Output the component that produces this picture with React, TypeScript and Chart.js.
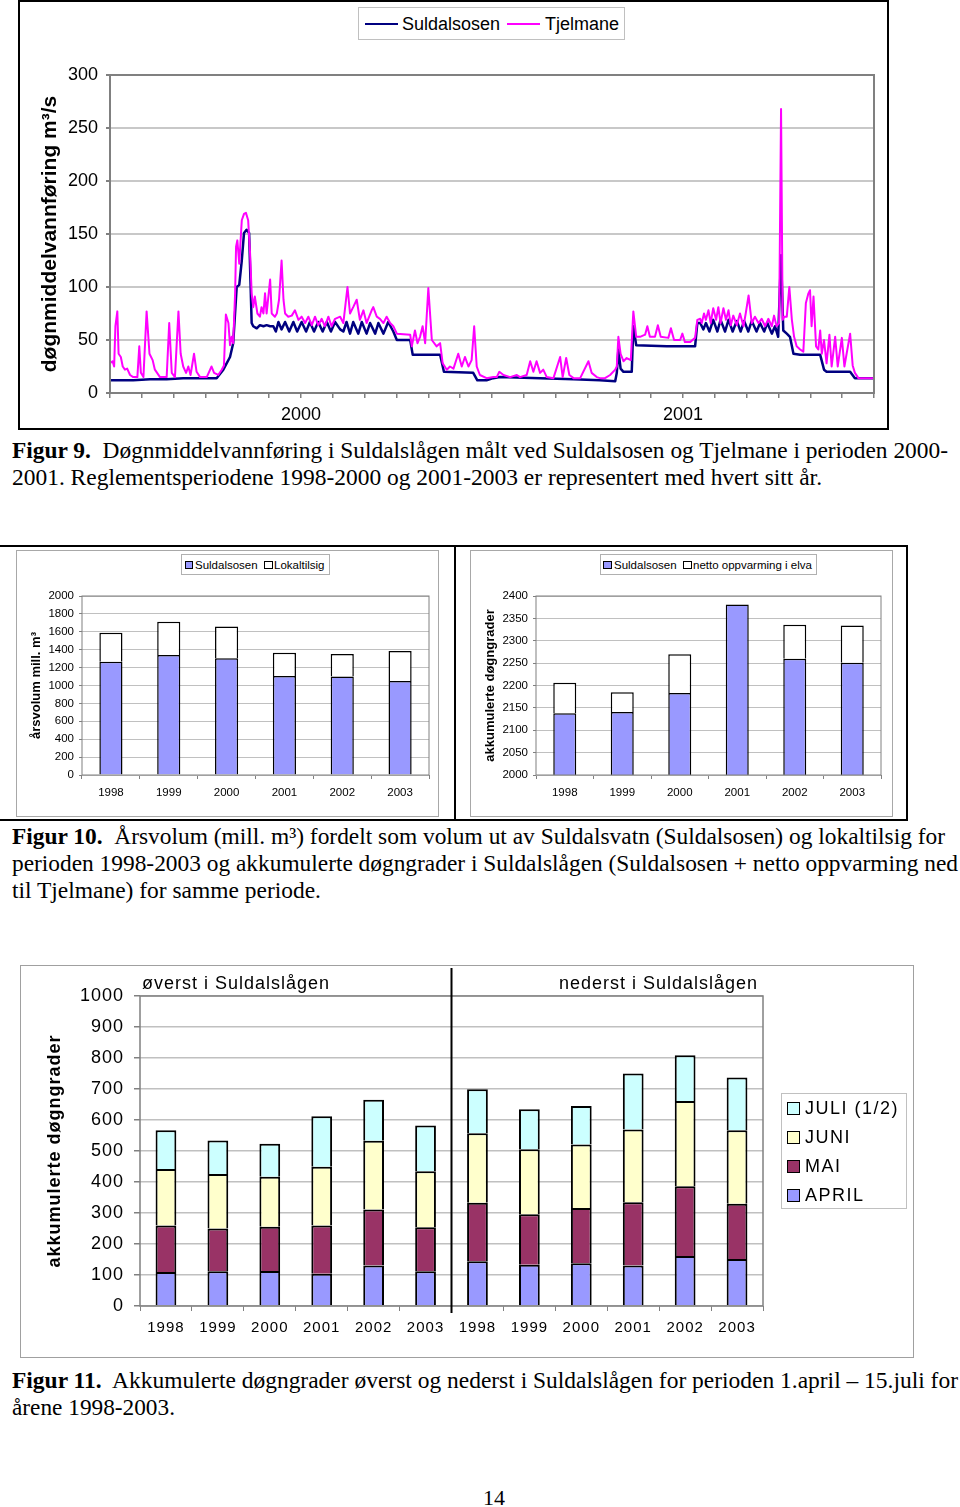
import React, { useEffect, useLayoutEffect, useRef } from "react";
import { Chart, registerables } from "chart.js";

Chart.register(...registerables);

const SANS = "'Liberation Sans', Arial, Helvetica, sans-serif";
const SERIF = "'Liberation Serif', 'Times New Roman', serif";

// ---------- Figur 9: daily mean discharge (x = months since 1 Jan 2000, y = m3/s) ----------
const yearTickMonths = [6, 18];
const yearTickLabels = ["2000", "2001"];

const suldalsosenFlow: [number, number][] = [
  [0, 12], [0.73, 12], [1.26, 13], [1.78, 13], [2.3, 14], [3.35, 14], [3.56, 22], [3.77, 34], [3.87, 47],
  [3.98, 100], [4.06, 102], [4.14, 125], [4.21, 151], [4.29, 154], [4.37, 151], [4.45, 66], [4.5, 63],
  [4.61, 61], [4.71, 64], [4.82, 63], [4.92, 64], [5.03, 63], [5.13, 63], [5.21, 58], [5.29, 67], [5.39, 60],
  [5.5, 67], [5.63, 58], [5.76, 67], [5.88, 58], [6.02, 67], [6.16, 58], [6.28, 67], [6.41, 58], [6.54, 67],
  [6.68, 58], [6.81, 67], [6.94, 58], [7.07, 67], [7.23, 60], [7.33, 58], [7.43, 67], [7.54, 56], [7.64, 67],
  [7.8, 56], [7.91, 67], [8.06, 56], [8.17, 66], [8.33, 56], [8.43, 66], [8.59, 56], [8.74, 67], [8.9, 58],
  [9.01, 50], [9.43, 50], [9.51, 36], [10.37, 36], [10.49, 20], [11.41, 19], [11.54, 12], [11.83, 12],
  [12.04, 14], [12.25, 15], [13.51, 14], [14.56, 13], [15.39, 12], [15.87, 11], [15.92, 19], [15.97, 41],
  [16.04, 23], [16.13, 20], [16.39, 20], [16.44, 63], [16.53, 45], [17.49, 44], [18.38, 44], [18.45, 66],
  [18.54, 66], [18.64, 60], [18.72, 66], [18.83, 58], [18.95, 69], [19.08, 58], [19.18, 69], [19.32, 58],
  [19.43, 69], [19.56, 58], [19.69, 68], [19.81, 58], [19.92, 68], [20.05, 58], [20.16, 68], [20.31, 58],
  [20.42, 66], [20.55, 58], [20.65, 66], [20.79, 56], [20.89, 63], [20.99, 53], [21.08, 130], [21.15, 59],
  [21.26, 56], [21.36, 53], [21.47, 37], [21.68, 36], [22.31, 36], [22.43, 22], [22.51, 20], [23.25, 20],
  [23.4, 14], [23.98, 14],
];

const tjelmaneFlow: [number, number][] = [
  [0, 28], [0.08, 30], [0.13, 25], [0.17, 63], [0.23, 77], [0.27, 37], [0.34, 34], [0.4, 25], [0.47, 22],
  [0.54, 23], [0.63, 17], [0.73, 15], [0.86, 15], [0.92, 44], [0.97, 19], [1.05, 15], [1.15, 77], [1.24, 37],
  [1.34, 31], [1.41, 22], [1.57, 15], [1.78, 15], [1.86, 66], [1.94, 19], [2.04, 15], [2.15, 77], [2.22, 37],
  [2.3, 25], [2.39, 19], [2.46, 25], [2.53, 17], [2.64, 37], [2.72, 20], [2.83, 15], [3.04, 15], [3.19, 25],
  [3.27, 19], [3.4, 17], [3.51, 22], [3.58, 26], [3.64, 74], [3.72, 66], [3.77, 45], [3.82, 53], [3.87, 47],
  [3.93, 94], [3.96, 138], [4.0, 144], [4.06, 122], [4.14, 163], [4.21, 169], [4.27, 170], [4.34, 163],
  [4.4, 132], [4.45, 94], [4.5, 81], [4.55, 91], [4.63, 75], [4.71, 72], [4.76, 81], [4.82, 75], [4.87, 94],
  [4.92, 75], [5.03, 107], [5.08, 75], [5.18, 72], [5.24, 75], [5.31, 88], [5.39, 125], [5.45, 88], [5.5, 75],
  [5.6, 72], [5.71, 73], [5.81, 78], [5.92, 69], [6.02, 72], [6.13, 66], [6.23, 72], [6.34, 64], [6.44, 72],
  [6.54, 64], [6.65, 70], [6.75, 63], [6.86, 72], [6.96, 63], [7.07, 70], [7.23, 72], [7.33, 66], [7.46, 100],
  [7.54, 75], [7.64, 81], [7.75, 88], [7.85, 69], [7.96, 78], [8.06, 66], [8.22, 78], [8.27, 81], [8.38, 72],
  [8.48, 70], [8.59, 66], [8.69, 72], [8.8, 66], [8.9, 63], [9.01, 56], [9.43, 55], [9.48, 44], [9.58, 59],
  [9.66, 47], [9.74, 53], [9.82, 63], [9.9, 47], [10.0, 99], [10.11, 50], [10.26, 44], [10.37, 47], [10.45, 28],
  [10.58, 22], [10.68, 25], [10.79, 23], [10.94, 37], [11.05, 25], [11.15, 34], [11.26, 25], [11.36, 31],
  [11.44, 63], [11.52, 25], [11.62, 17], [11.83, 14], [12.04, 15], [12.15, 15], [12.23, 20], [12.36, 17],
  [12.57, 15], [12.78, 17], [12.88, 15], [13.09, 17], [13.2, 30], [13.3, 20], [13.4, 30], [13.51, 19],
  [13.61, 22], [13.72, 15], [13.93, 14], [14.14, 34], [14.22, 15], [14.33, 33], [14.43, 17], [14.56, 14],
  [14.77, 14], [15.03, 30], [15.13, 19], [15.29, 15], [15.39, 14], [15.55, 14], [15.71, 17], [15.87, 22],
  [15.92, 25], [15.97, 53], [16.04, 37], [16.13, 30], [16.23, 33], [16.36, 31], [16.44, 77], [16.53, 53],
  [16.65, 53], [16.81, 55], [16.88, 63], [16.96, 53], [17.12, 53], [17.21, 64], [17.3, 53], [17.54, 52],
  [17.62, 61], [17.72, 50], [17.91, 50], [17.98, 56], [18.06, 48], [18.22, 48], [18.38, 52], [18.45, 69],
  [18.54, 70], [18.59, 66], [18.66, 75], [18.72, 69], [18.8, 78], [18.87, 66], [18.95, 80], [19.04, 69],
  [19.11, 81], [19.18, 66], [19.27, 80], [19.35, 69], [19.43, 78], [19.5, 64], [19.58, 73], [19.69, 64],
  [19.79, 75], [19.9, 63], [19.97, 75], [20.06, 92], [20.16, 66], [20.26, 72], [20.37, 66], [20.47, 70],
  [20.58, 63], [20.68, 70], [20.79, 63], [20.86, 73], [20.94, 63], [21.02, 66], [21.08, 268], [21.13, 69],
  [21.18, 72], [21.26, 72], [21.34, 100], [21.42, 69], [21.49, 53], [21.57, 44], [21.68, 41], [21.78, 39],
  [21.86, 85], [21.94, 94], [21.99, 97], [22.04, 63], [22.1, 91], [22.18, 44], [22.25, 41], [22.31, 59],
  [22.36, 37], [22.43, 50], [22.51, 28], [22.6, 55], [22.67, 25], [22.78, 53], [22.86, 25], [22.99, 52],
  [23.07, 25], [23.25, 56], [23.33, 26], [23.4, 19], [23.51, 14], [23.98, 14],
];

// ---------- Figur 10 ----------
const years = ["1998", "1999", "2000", "2001", "2002", "2003"];
const volumSuldalsosen = [1265, 1340, 1305, 1105, 1100, 1050];
const volumLokaltilsig = [325, 372, 353, 262, 252, 335];
const graderSuldalsosen = [2138, 2141, 2183, 2381, 2260, 2251];
const graderNetto = [68, 44, 87, 0, 76, 83];

// ---------- Figur 11 (6 × øverst, then 6 × nederst) ----------
const stationYears = [...years, ...years];
const april = [110, 112, 113, 104, 131, 112, 144, 133, 138, 131, 161, 152];
const mai = [150, 138, 143, 156, 180, 142, 189, 163, 178, 204, 225, 178];
const juni = [182, 176, 161, 189, 222, 181, 224, 210, 205, 234, 275, 237];
const juli = [125, 108, 106, 163, 132, 147, 142, 129, 124, 181, 148, 170];

const COL_APRIL = "#9999FF";
const COL_MAI = "#993366";
const COL_JUNI = "#FFFFCC";
const COL_JULI = "#CCFFFF";

const plain = (v: any) => String(v);

function plotFrame(color: string, width: number) {
  return {
    id: "plotFrame",
    afterDraw(chart: any) {
      const { ctx, chartArea: a } = chart;
      ctx.save();
      ctx.strokeStyle = color;
      ctx.lineWidth = width;
      ctx.strokeRect(a.left, a.top, a.right - a.left, a.bottom - a.top);
      ctx.restore();
    },
  };
}

const spacingPlugin = {
  id: "spacing",
  beforeDraw(chart: any) {
    (chart.ctx as any).letterSpacing = "1px";
  },
};

const dividerPlugin = {
  id: "divider",
  afterDraw(chart: any) {
    const { ctx, chartArea } = chart;
    const x = chart.scales.x.getPixelForValue(5.5);
    ctx.save();
    ctx.strokeStyle = "#000";
    ctx.lineWidth = 2;
    ctx.beginPath();
    ctx.moveTo(x, 2);
    ctx.lineTo(x, chartArea.bottom + 7);
    ctx.stroke();
    ctx.restore();
  },
};

function ChartBox({ x, y, w, h, make }: { x: number; y: number; w: number; h: number; make: () => any }) {
  const ref = useRef<HTMLCanvasElement>(null);
  useEffect(() => {
    const chart = new Chart(ref.current as HTMLCanvasElement, make());
    return () => chart.destroy();
  }, []);
  return (
    <canvas
      ref={ref}
      width={w}
      height={h}
      style={{ position: "absolute", left: x, top: y, width: w, height: h }}
    />
  );
}

function Txt({ x, y, size, children, bold, spacing, family }: any) {
  const lh = Math.round(size * 1.2);
  return (
    <div
      style={{
        position: "absolute",
        left: x,
        top: y - lh / 2,
        font: `${bold ? "bold " : ""}${size}px ${family || SANS}`,
        lineHeight: `${lh}px`,
        whiteSpace: "pre",
        letterSpacing: spacing,
        color: "#000",
      }}
    >
      {children}
    </div>
  );
}

function FitLine({ x, y, w, children }: any) {
  const ref = useRef<HTMLDivElement>(null);
  useLayoutEffect(() => {
    const el = ref.current;
    if (!el) return;
    el.style.transform = "none";
    const natural = el.getBoundingClientRect().width;
    if (natural > 0) el.style.transform = `scaleX(${w / natural})`;
  }, [w]);
  return (
    <div
      ref={ref}
      style={{
        position: "absolute",
        left: x,
        top: y - 13.5,
        font: `23px ${SERIF}`,
        lineHeight: "27px",
        whiteSpace: "pre",
        transformOrigin: "0 50%",
        color: "#000",
      }}
    >
      {children}
    </div>
  );
}

function Swatch({ x, y, size, color, border }: any) {
  return (
    <div
      style={{
        position: "absolute",
        left: x,
        top: y,
        width: size,
        height: size,
        background: color,
        border: `${border}px solid #000`,
        boxSizing: "border-box",
      }}
    />
  );
}

function Box({ x, y, w, h, border }: any) {
  return (
    <div
      style={{ position: "absolute", left: x, top: y, width: w, height: h, border, boxSizing: "border-box" }}
    />
  );
}

// ---------- chart configs ----------
function makeFlow() {
  return {
    type: "line",
    data: {
      datasets: [
        {
          label: "Suldalsosen",
          data: suldalsosenFlow.map(([x, y]) => ({ x, y })),
          borderColor: "#000080",
          borderWidth: 2.5,
          pointRadius: 0,
          borderJoinStyle: "round",
          order: 2,
        },
        {
          label: "Tjelmane",
          data: tjelmaneFlow.map(([x, y]) => ({ x, y })),
          borderColor: "#FF00FF",
          borderWidth: 2,
          pointRadius: 0,
          borderJoinStyle: "round",
          order: 1,
        },
      ],
    },
    options: {
      animation: false,
      responsive: false,
      layout: { padding: { top: 30, right: 12, left: 0, bottom: 0 } },
      plugins: { legend: { display: false }, tooltip: { enabled: false } },
      scales: {
        x: {
          type: "linear",
          min: 0,
          max: 24,
          afterFit: (s: any) => {
            s.height = 32;
          },
          ticks: {
            stepSize: 1,
            autoSkip: false,
            maxRotation: 0,
            padding: 6,
            color: "#000",
            font: { family: SANS, size: 18 },
            callback: (v: any) => {
              const i = yearTickMonths.indexOf(Number(v));
              return i >= 0 ? yearTickLabels[i] : "";
            },
          },
          grid: { drawOnChartArea: false, tickLength: 5, tickColor: "#808080", lineWidth: 1.5 },
          border: { display: false },
        },
        y: {
          min: 0,
          max: 300,
          afterFit: (s: any) => {
            s.width = 90;
          },
          ticks: { stepSize: 50, padding: 8, color: "#000", font: { family: SANS, size: 18 }, callback: plain },
          grid: { color: "#c8c8c8", lineWidth: 2, tickLength: 4, tickColor: "#808080" },
          border: { display: false },
          title: {
            display: true,
            text: "døgnmiddelvannføring m³/s",
            color: "#000",
            font: { family: SANS, size: 21, weight: "bold" },
            padding: { top: 18, bottom: 0 },
          },
        },
      },
    },
    plugins: [plotFrame("#808080", 2)],
  };
}

function makeSmallBar(
  a: number[],
  b: number[],
  labelA: string,
  labelB: string,
  min: number,
  max: number,
  step: number,
  title: string
) {
  return () => ({
    type: "bar",
    data: {
      labels: years,
      datasets: [
        {
          label: labelA,
          data: a,
          backgroundColor: "#9999FF",
          borderColor: "#000",
          borderWidth: 1.5,
          categoryPercentage: 1,
          barPercentage: 0.4,
        },
        {
          label: labelB,
          data: b,
          backgroundColor: "#FFFFFF",
          borderColor: "#000",
          borderWidth: 1.5,
          categoryPercentage: 1,
          barPercentage: 0.4,
        },
      ],
    },
    options: {
      animation: false,
      responsive: false,
      layout: { padding: { top: 20, right: 9, left: 0, bottom: 0 } },
      plugins: { legend: { display: false }, tooltip: { enabled: false } },
      scales: {
        x: {
          stacked: true,
          afterFit: (s: any) => {
            s.height = 39;
          },
          ticks: { padding: 7, color: "#000", font: { family: SANS, size: 11.5 }, maxRotation: 0 },
          grid: { drawOnChartArea: false, tickLength: 4, tickColor: "#808080", offset: true },
          border: { display: false },
        },
        y: {
          stacked: true,
          min,
          max,
          afterFit: (s: any) => {
            s.width = 64;
          },
          ticks: { stepSize: step, padding: 5, color: "#000", font: { family: SANS, size: 11.5 }, callback: plain },
          grid: { color: "#c0c0c0", tickLength: 3, tickColor: "#808080" },
          border: { display: false },
          title: {
            display: true,
            text: title,
            color: "#000",
            font: { family: SANS, size: 13, weight: "bold" },
            padding: { top: 11, bottom: 0 },
          },
        },
      },
    },
    plugins: [plotFrame("#808080", 1)],
  });
}

function makeMonthly() {
  const common = { borderColor: "#000", borderWidth: 2, categoryPercentage: 1, barPercentage: 0.4 };
  return {
    type: "bar",
    data: {
      labels: stationYears,
      datasets: [
        { label: "APRIL", data: april, backgroundColor: COL_APRIL, ...common },
        { label: "MAI", data: mai, backgroundColor: COL_MAI, ...common },
        { label: "JUNI", data: juni, backgroundColor: COL_JUNI, ...common },
        { label: "JULI (1/2)", data: juli, backgroundColor: COL_JULI, ...common },
      ],
    },
    options: {
      animation: false,
      responsive: false,
      layout: { padding: { top: 30, right: 19, left: 0, bottom: 0 } },
      plugins: { legend: { display: false }, tooltip: { enabled: false } },
      scales: {
        x: {
          stacked: true,
          afterFit: (s: any) => {
            s.height = 49;
          },
          ticks: { padding: 8, autoSkip: false, maxRotation: 0, color: "#000", font: { family: SANS, size: 15 } },
          grid: { drawOnChartArea: false, tickLength: 5, tickColor: "#808080", offset: true },
          border: { display: false },
        },
        y: {
          stacked: true,
          min: 0,
          max: 1000,
          afterFit: (s: any) => {
            s.width = 118;
          },
          ticks: { stepSize: 100, padding: 10, color: "#000", font: { family: SANS, size: 18 }, callback: plain },
          grid: { color: "#c0c0c0", lineWidth: 1.5, tickLength: 6, tickColor: "#808080" },
          border: { display: false },
          title: {
            display: true,
            text: "akkumulerte døgngrader",
            color: "#000",
            font: { family: SANS, size: 18, weight: "bold" },
            padding: { top: 22, bottom: 0 },
          },
        },
      },
    },
    plugins: [spacingPlugin, plotFrame("#808080", 1.5), dividerPlugin],
  };
}

export default function App() {
  return (
    <div
      style={{
        position: "absolute",
        left: 0,
        top: 0,
        width: 960,
        height: 1507,
        background: "#fff",
        overflow: "hidden",
      }}
    >
      {/* ---------- Figur 9 ---------- */}
      <Box x={18} y={0} w={871} h={430} border="2px solid #000" />
      <ChartBox x={20} y={45} w={866} h={380} make={makeFlow} />
      <Box x={358} y={7} w={267} h={33} border="1px solid #c0c0c0" />
      <div style={{ position: "absolute", left: 365, top: 22.5, width: 33, height: 2.5, background: "#000080" }} />
      <Txt x={402} y={24} size={18}>Suldalsosen</Txt>
      <div style={{ position: "absolute", left: 507, top: 23, width: 33, height: 2, background: "#FF00FF" }} />
      <Txt x={545} y={24} size={18}>Tjelmane</Txt>

      <FitLine x={12} y={450} w={936}>
        <b>Figur 9.</b>
        {"  Døgnmiddelvannføring i Suldalslågen målt ved Suldalsosen og Tjelmane i perioden 2000-"}
      </FitLine>
      <FitLine x={12} y={477} w={810}>
        {"2001. Reglementsperiodene 1998-2000 og 2001-2003 er representert med hvert sitt år."}
      </FitLine>

      {/* ---------- Figur 10 ---------- */}
      <Box x={-3} y={545} w={911} h={276} border="2px solid #000" />
      <div style={{ position: "absolute", left: 454, top: 545, width: 2, height: 276, background: "#000" }} />
      <Box x={16} y={550} w={423} h={267} border="1px solid #a8a8a8" />
      <Box x={470} y={550} w={423} h={267} border="1px solid #a8a8a8" />

      <ChartBox
        x={18}
        y={576}
        w={420}
        h={238}
        make={makeSmallBar(volumSuldalsosen, volumLokaltilsig, "Suldalsosen", "Lokaltilsig", 0, 2000, 200, "årsvolum mill. m³")}
      />
      <ChartBox
        x={472}
        y={576}
        w={418}
        h={238}
        make={makeSmallBar(
          graderSuldalsosen,
          graderNetto,
          "Suldalsosen",
          "netto oppvarming i elva",
          2000,
          2400,
          50,
          "akkumulerte døgngrader"
        )}
      />

      <Box x={181} y={554} w={149} h={21} border="1px solid #b0b0b0" />
      <Swatch x={184.5} y={560.5} size={8.5} color="#9999FF" border={1} />
      <Txt x={195} y={565} size={11.5}>Suldalsosen</Txt>
      <Swatch x={264} y={560.5} size={8.5} color="#FFFFFF" border={1} />
      <Txt x={274} y={565} size={11.5}>Lokaltilsig</Txt>

      <Box x={600} y={554} w={217} h={21} border="1px solid #b0b0b0" />
      <Swatch x={603} y={560.5} size={8.5} color="#9999FF" border={1} />
      <Txt x={614} y={565} size={11.5}>Suldalsosen</Txt>
      <Swatch x={683} y={560.5} size={8.5} color="#FFFFFF" border={1} />
      <Txt x={693} y={565} size={11.5}>netto oppvarming i elva</Txt>

      <FitLine x={12} y={836} w={933}>
        <b>Figur 10.</b>
        {"  Årsvolum (mill. m³) fordelt som volum ut av Suldalsvatn (Suldalsosen) og lokaltilsig for"}
      </FitLine>
      <FitLine x={12} y={863} w={946}>
        {"perioden 1998-2003 og akkumulerte døgngrader i Suldalslågen (Suldalsosen + netto oppvarming ned"}
      </FitLine>
      <FitLine x={12} y={890} w={309}>
        {"til Tjelmane) for samme periode."}
      </FitLine>

      {/* ---------- Figur 11 ---------- */}
      <Box x={20} y={965} w={894} h={393} border="1.5px solid #a0a0a0" />
      <ChartBox x={22} y={966} w={760} h={389} make={makeMonthly} />
      <Txt x={142} y={983} size={18} spacing="1px">øverst i Suldalslågen</Txt>
      <Txt x={559} y={983} size={18} spacing="1px">nederst i Suldalslågen</Txt>

      <Box x={781} y={1093} w={126} h={116} border="1px solid #c0c0c0" />
      <Swatch x={787} y={1101.5} size={13} color={COL_JULI} border={1.5} />
      <Txt x={805} y={1108} size={18} spacing="1.5px">JULI (1/2)</Txt>
      <Swatch x={787} y={1130.5} size={13} color={COL_JUNI} border={1.5} />
      <Txt x={805} y={1137} size={18} spacing="1.5px">JUNI</Txt>
      <Swatch x={787} y={1159.5} size={13} color={COL_MAI} border={1.5} />
      <Txt x={805} y={1166} size={18} spacing="1.5px">MAI</Txt>
      <Swatch x={787} y={1188.5} size={13} color={COL_APRIL} border={1.5} />
      <Txt x={805} y={1195} size={18} spacing="1.5px">APRIL</Txt>

      <FitLine x={12} y={1380} w={946}>
        <b>Figur 11.</b>
        {"  Akkumulerte døgngrader øverst og nederst i Suldalslågen for perioden 1.april – 15.juli for"}
      </FitLine>
      <FitLine x={12} y={1407} w={163}>
        {"årene 1998-2003."}
      </FitLine>

      <div
        style={{
          position: "absolute",
          left: 464,
          top: 1484,
          width: 60,
          textAlign: "center",
          font: `22px ${SERIF}`,
          lineHeight: "27px",
          color: "#000",
        }}
      >
        14
      </div>
    </div>
  );
}
